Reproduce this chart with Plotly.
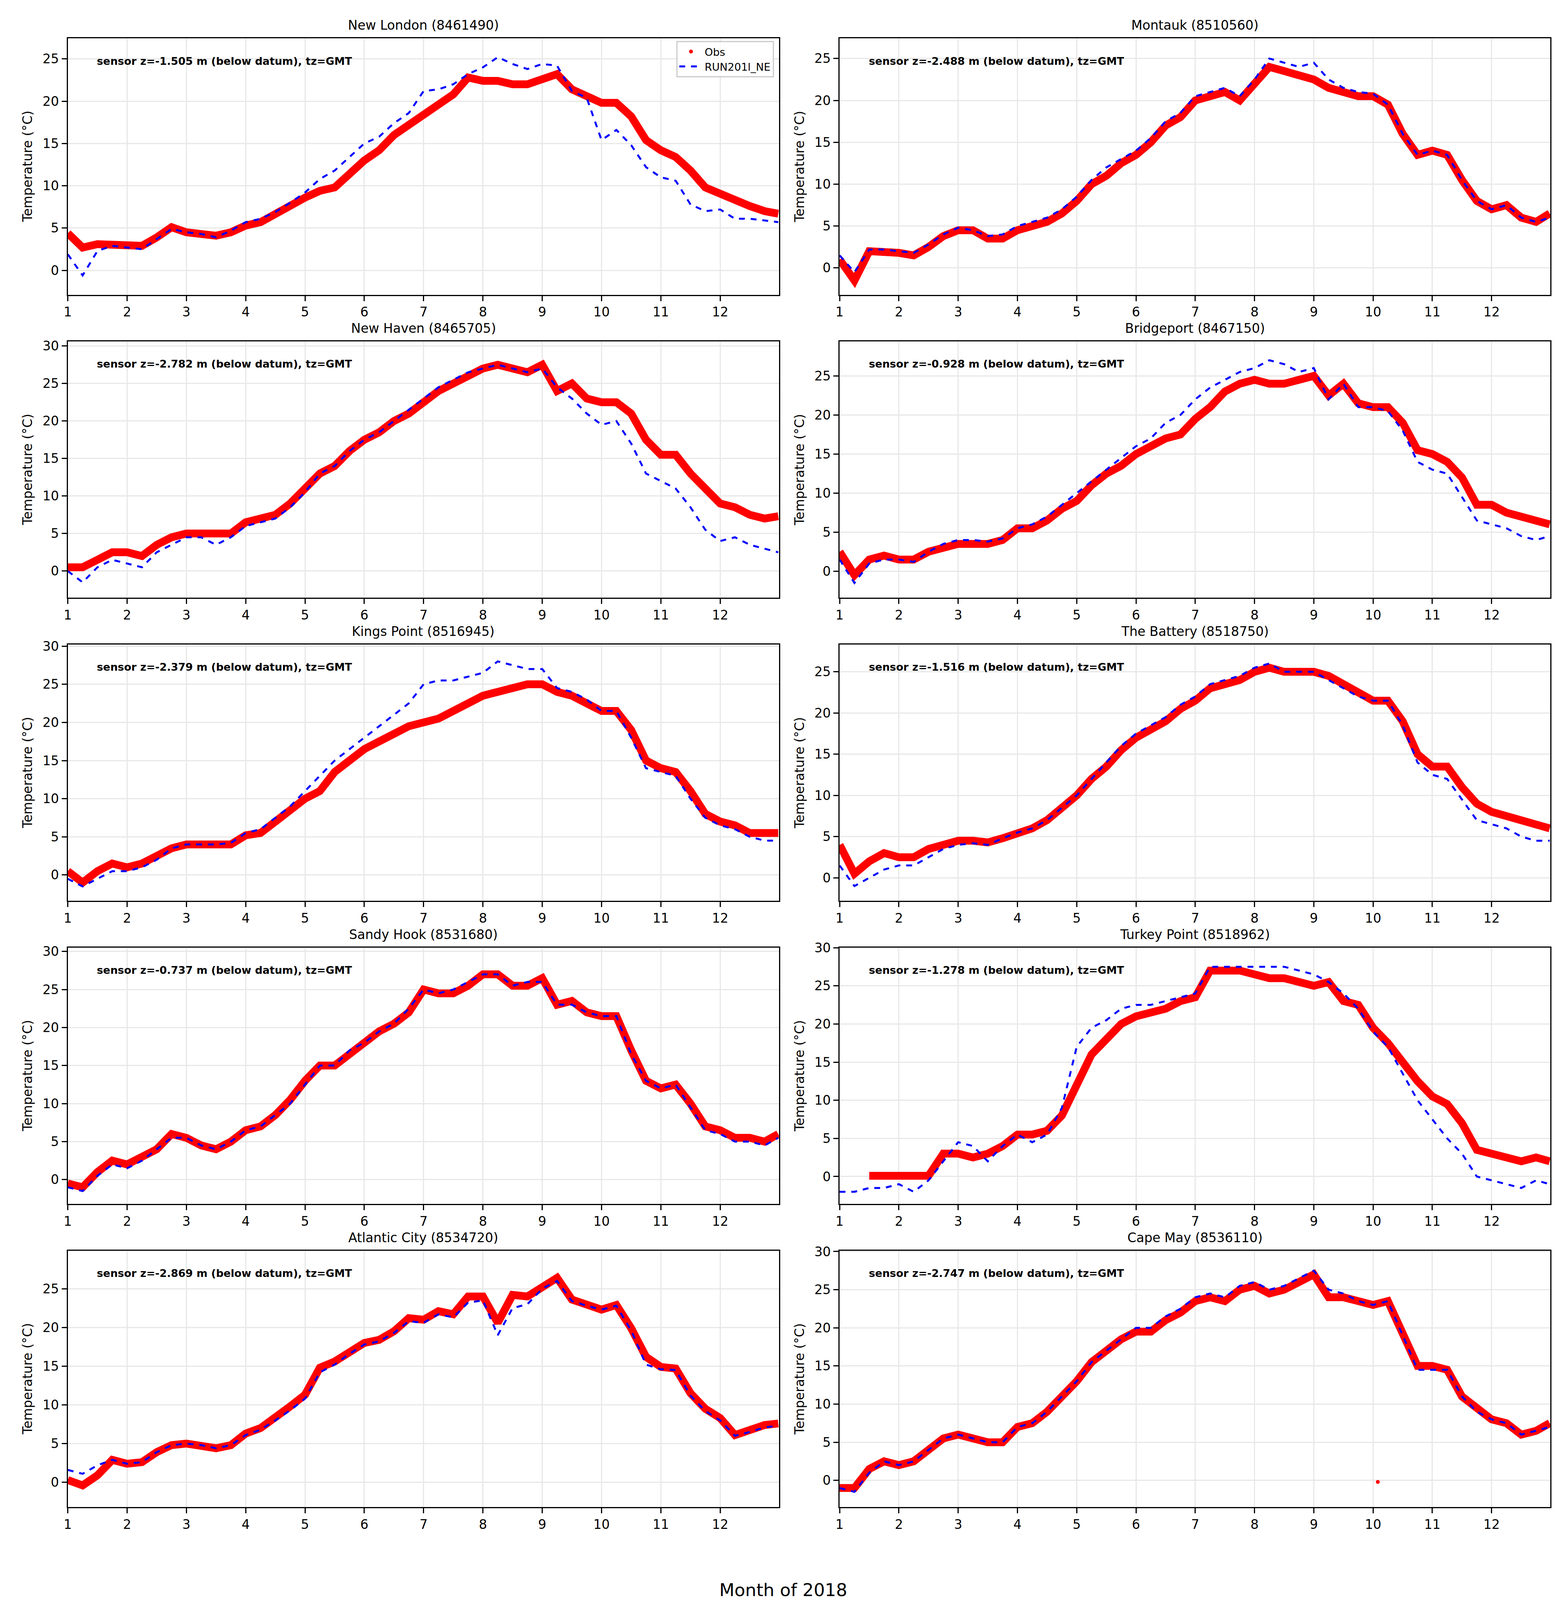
import plotly.graph_objects as go
from plotly.subplots import make_subplots

# Aikapisteet (kuukausi vuonna 2018), noin viikon valein
MONTHS = [1.0, 1.25, 1.5, 1.75, 2.0, 2.25, 2.5, 2.75, 3.0, 3.25, 3.5, 3.75,
          4.0, 4.25, 4.5, 4.75, 5.0, 5.25, 5.5, 5.75, 6.0, 6.25, 6.5, 6.75,
          7.0, 7.25, 7.5, 7.75, 8.0, 8.25, 8.5, 8.75, 9.0, 9.25, 9.5, 9.75,
          10.0, 10.25, 10.5, 10.75, 11.0, 11.25, 11.5, 11.75, 12.0, 12.25, 12.5, 12.75,
          12.98]

# New London (8461490)
NEW_LONDON_OBS = [4.4, 2.7, 3.1, 3.1, 3.0, 2.9, 3.9, 5.1, 4.5, 4.3, 4.1, 4.5,
                  5.3, 5.7, 6.7, 7.8, 8.6, 9.4, 9.8, 11.4, 13.0, 14.2, 16.0, 17.2,
                  18.4, 19.8, 20.8, 22.8, 22.4, 22.4, 22.0, 22.0, 22.6, 23.2, 21.4, 20.6,
                  19.8, 19.8, 18.2, 15.4, 14.2, 13.4, 11.8, 9.8, 9.0, 8.2, 7.6, 7.0,
                  6.7]
NEW_LONDON_MODEL = [1.9, -0.6, 2.3, 2.9, 2.7, 2.5, 3.7, 4.9, 4.5, 4.3, 3.9, 4.7,
                    5.7, 6.1, 6.9, 8.0, 9.2, 10.8, 11.8, 13.4, 15.0, 15.8, 17.4, 18.6,
                    21.2, 21.4, 22.0, 23.2, 24.0, 25.2, 24.4, 23.8, 24.4, 24.2, 21.2, 20.4,
                    15.4, 16.6, 14.8, 12.2, 11.0, 10.6, 7.8, 7.0, 7.2, 6.1, 6.1, 5.9,
                    5.7]

# Montauk (8510560)
MONTAUK_OBS = [1, -1.5, 2, 2, 1.8, 1.5, 2.5, 3.8, 4.5, 4.5, 3.5, 3.5,
               4.5, 5, 5.5, 6.5, 8, 10, 11, 12.5, 13.5, 15, 17, 18,
               20, 20.5, 21, 20, 22, 24, 23.5, 23, 22.5, 21.5, 21, 20.5,
               20.5, 19.5, 16, 13.5, 14, 13.5, 10.5, 8, 7, 7.5, 6, 5.5,
               6.5]
MONTAUK_MODEL = [1.5, -0.5, 2.2, 2.2, 2, 1.8, 2.8, 4, 4.8, 4.5, 3.8, 4,
                 5, 5.5, 6, 7, 8.5, 10.5, 12, 13, 14, 15.5, 17.5, 18.5,
                 20.5, 21, 21.5, 20.5, 22.5, 25, 24.5, 24, 24.5, 22.5, 21.5, 21,
                 20.8, 19.5, 16, 13.5, 14, 13.5, 10.5, 8, 7, 7.5, 6, 5.5,
                 6]

# New Haven (8465705)
NEW_HAVEN_OBS = [0.5, 0.5, 1.5, 2.5, 2.5, 2, 3.5, 4.5, 5, 5, 4.8, 5,
                 6.5, 7, 7.5, 9, 11, 13, 14, 16, 17.5, 18.5, 20, 21,
                 22.5, 24, 25, 26, 27, 27.5, 27, 26.5, 27.5, 24, 25, 23,
                 22.5, 22.5, 21, 17.5, 15.5, 15.5, 13, 11, 9, 8.5, 7.5, 7,
                 7.3]
NEW_HAVEN_MODEL = [0, -1.5, 0.5, 1.5, 1, 0.5, 2.5, 3.5, 4.5, 4.5, 3.5, 4.5,
                   6, 6.5, 7, 8.5, 10.5, 13, 14, 16, 17.5, 18.5, 20, 21.5,
                   23, 24.5, 25.5, 26.5, 27, 27.5, 27, 26.5, 27, 24.5, 23, 21,
                   19.5, 20, 17, 13, 12, 11, 8.5, 5.5, 4, 4.5, 3.5, 3,
                   2.5]

# Bridgeport (8467150)
BRIDGEPORT_OBS = [2.5, -0.5, 1.5, 2, 1.5, 1.5, 2.5, 3, 3.5, 3.5, 3.5, 4,
                  5.5, 5.5, 6.5, 8, 9, 11, 12.5, 13.5, 15, 16, 17, 17.5,
                  19.5, 21, 23, 24, 24.5, 24, 24, 24.5, 25, 22.5, 24, 21.5,
                  21, 21, 19, 15.5, 15, 14, 12, 8.5, 8.5, 7.5, 7, 6.5,
                  6]
BRIDGEPORT_MODEL = [1.5, -1.5, 1, 1.5, 1.5, 1.2, 2.5, 3.5, 4, 4, 3.8, 4.2,
                    5.5, 6, 7, 8.5, 10, 11.5, 13, 14.5, 16, 17, 19, 20,
                    22, 23.5, 24.5, 25.5, 26, 27, 26.5, 25.5, 26, 22, 24, 21,
                    21, 20.5, 18, 14, 13, 12.5, 9.5, 6.5, 6, 5.5, 4.5, 4,
                    4.5]

# Kings Point (8516945)
KINGS_POINT_OBS = [0.5, -1, 0.5, 1.5, 1, 1.5, 2.5, 3.5, 4, 4, 3.8, 4,
                   5.2, 5.5, 7, 8.5, 10, 11, 13.5, 15, 16.5, 17.5, 18.5, 19.5,
                   20, 20.5, 21.5, 22.5, 23.5, 24, 24.5, 25, 25, 24, 23.5, 22.5,
                   21.5, 21.5, 19, 15, 14, 13.5, 11, 8, 7, 6.5, 5.5, 5.5,
                   5.5]
KINGS_POINT_MODEL = [-0.5, -1.5, -0.5, 0.5, 0.5, 1, 2, 3.5, 4, 4, 4, 4.2,
                     5.5, 6, 7.5, 9, 11, 13, 15, 16.5, 18, 19.5, 21, 22.5,
                     25, 25.5, 25.5, 26, 26.5, 28, 27.5, 27, 27, 24.5, 24, 23,
                     21.5, 21.5, 18, 14, 13.5, 13, 10, 7.5, 6.5, 6, 5, 4.5,
                     4.5]

# The Battery (8518750)
BATTERY_OBS = [4, 0.5, 2, 3, 2.5, 2.5, 3.5, 4, 4.5, 4.5, 4.3, 4.8,
               5.5, 6, 7, 8.5, 10, 12, 13.5, 15.5, 17, 18, 19, 20.5,
               21.5, 23, 23.5, 24, 25, 25.5, 25, 25, 25, 24.5, 23.5, 22.5,
               21.5, 21.5, 19, 15, 13.5, 13.5, 11, 9, 8, 7.5, 7, 6.5,
               6]
BATTERY_MODEL = [1.5, -1, 0, 1, 1.5, 1.5, 2.5, 3.5, 4, 4.2, 4, 4.8,
                 5.5, 6, 7, 8.5, 10, 12, 14, 16, 17.5, 18.5, 19.5, 21,
                 22, 23.5, 24, 24.5, 25.5, 26, 25, 25, 25, 24, 23, 22,
                 21.5, 21.5, 18.5, 14, 12.5, 12, 9.5, 7, 6.5, 6, 5, 4.5,
                 4.5]

# Sandy Hook (8531680)
SANDY_HOOK_OBS = [-0.5, -1, 1, 2.5, 2, 3, 4, 6, 5.5, 4.5, 4, 5,
                  6.5, 7, 8.5, 10.5, 13, 15, 15, 16.5, 18, 19.5, 20.5, 22,
                  25, 24.5, 24.5, 25.5, 27, 27, 25.5, 25.5, 26.5, 23, 23.5, 22,
                  21.5, 21.5, 17, 13, 12, 12.5, 10, 7, 6.5, 5.5, 5.5, 5,
                  6]
SANDY_HOOK_MODEL = [-1, -1.5, 0.5, 2, 1.5, 2.5, 4, 5.5, 5.5, 4.5, 4, 5,
                    6.5, 7, 8.5, 10, 12.5, 15, 15, 17, 18, 19.5, 20.5, 22.5,
                    25, 24.5, 25, 26, 27, 27, 25.5, 26, 26, 23, 23, 22,
                    21.5, 21.5, 16.5, 13, 12, 12.5, 9.5, 6.5, 6, 5, 5, 4.5,
                    5.5]

# Turkey Point (8518962)
TURKEY_POINT_OBS = [None, None, 0.1, 0.1, 0.1, 0.1, 0.1, 3, 3, 2.5, 3, 4,
                    5.5, 5.5, 6, 8, 12, 16, 18, 20, 21, 21.5, 22, 23,
                    23.5, 27, 27, 27, 26.5, 26, 26, 25.5, 25, 25.5, 23, 22.5,
                    19.5, 17.5, 15, 12.5, 10.5, 9.5, 7, 3.5, 3, 2.5, 2, 2.5,
                    2]
TURKEY_POINT_MODEL = [-2, -2, -1.5, -1.5, -1, -2, -0.5, 2, 4.5, 4, 2, 4,
                      5.5, 4.5, 5.5, 9, 17, 19.5, 20.5, 22, 22.5, 22.5, 23, 23.5,
                      24, 27.5, 27.5, 27.5, 27.5, 27.5, 27.5, 27, 26.5, 25.5, 24, 22,
                      19, 17, 13.5, 10, 7.5, 5, 3, 0, -0.5, -1, -1.5, -0.5,
                      -1]

# Atlantic City (8534720)
ATLANTIC_CITY_OBS = [0.3, -0.4, 0.9, 2.9, 2.4, 2.6, 3.9, 4.8, 5.0, 4.8, 4.4, 4.8,
                     6.3, 7.0, 8.3, 9.8, 11.3, 14.8, 15.6, 16.9, 18.0, 18.4, 19.5, 21.2,
                     21.0, 22.1, 21.7, 24.0, 24.0, 20.6, 24.2, 24.0, 25.3, 26.4, 23.6, 22.9,
                     22.3, 22.9, 19.9, 16.2, 14.9, 14.7, 11.5, 9.5, 8.3, 6.1, 6.7, 7.4,
                     7.6]
ATLANTIC_CITY_MODEL = [1.6, 1.1, 2.2, 2.9, 2.4, 2.6, 3.9, 4.8, 5.0, 4.8, 4.4, 4.8,
                       6.1, 6.8, 8.0, 9.3, 10.8, 14.2, 15.2, 16.6, 17.8, 18.2, 19.3, 20.8,
                       20.6, 21.7, 21.3, 23.2, 23.5, 19.0, 22.5, 23.0, 25.0, 26.0, 23.4, 22.8,
                       22.3, 22.8, 19.6, 15.2, 14.6, 14.5, 11.2, 9.2, 8.0, 6.0, 6.5, 7.1,
                       7.3]

# Cape May (8536110)
CAPE_MAY_OBS = [-1, -1, 1.5, 2.5, 2, 2.5, 4, 5.5, 6, 5.5, 5, 5,
                7, 7.5, 9, 11, 13, 15.5, 17, 18.5, 19.5, 19.5, 21, 22,
                23.5, 24, 23.5, 25, 25.5, 24.5, 25, 26, 27, 24, 24, 23.5,
                23, 23.5, 19, 15, 15, 14.5, 11, 9.5, 8, 7.5, 6, 6.5,
                7.5]
CAPE_MAY_MODEL = [-1, -1.5, 1, 2.5, 2, 2.5, 4, 5.5, 6, 5.5, 5, 5,
                  7, 7.5, 9, 11, 13, 15.5, 17, 18.5, 20, 20, 21.5, 22.5,
                  24, 24.5, 24, 25.5, 26, 25, 25.5, 26.5, 27.5, 25, 24.5, 23.5,
                  23, 23.5, 19, 14.5, 14.5, 14.5, 11, 9, 8, 7.5, 6, 6.5,
                  7]
CAPE_MAY_SPIKE_X = [10.08]
CAPE_MAY_SPIKE_Y = [-0.2]

STATION_NAMES = ["New London (8461490)", "Montauk (8510560)",
                 "New Haven (8465705)", "Bridgeport (8467150)",
                 "Kings Point (8516945)", "The Battery (8518750)",
                 "Sandy Hook (8531680)", "Turkey Point (8518962)",
                 "Atlantic City (8534720)", "Cape May (8536110)"]
SENSOR_DEPTHS = ["-1.505", "-2.488", "-2.782", "-0.928", "-2.379",
                 "-1.516", "-0.737", "-1.278", "-2.869", "-2.747"]
OBS_SERIES = [NEW_LONDON_OBS, MONTAUK_OBS, NEW_HAVEN_OBS, BRIDGEPORT_OBS,
              KINGS_POINT_OBS, BATTERY_OBS, SANDY_HOOK_OBS, TURKEY_POINT_OBS,
              ATLANTIC_CITY_OBS, CAPE_MAY_OBS]
MODEL_SERIES = [NEW_LONDON_MODEL, MONTAUK_MODEL, NEW_HAVEN_MODEL, BRIDGEPORT_MODEL,
                KINGS_POINT_MODEL, BATTERY_MODEL, SANDY_HOOK_MODEL, TURKEY_POINT_MODEL,
                ATLANTIC_CITY_MODEL, CAPE_MAY_MODEL]
Y_RANGES = [[-2.88, 27.42], [-3.2, 27.4], [-3.57, 30.6], [-3.4, 29.4],
            [-3.4, 30.2], [-2.8, 28.3], [-3.2, 30.5], [-3.6, 30.0],
            [-3.2, 29.9], [-3.5, 30.1]]

FONT = "DejaVu Sans"
# Kuvakaappaus ei ylla 5000 px korkeuteen, joten pystysuunta puristetaan
W, H = 3984, 4120
SY = H / 5000

# Paneelien paikat (alkuperaisen kuvan pikseleina)
COL_X = [(155, 1981), (2137, 3962)]
ROW_TOP = [87, 1033, 1979, 2925, 3871]
ROW_H = 800

fig = make_subplots(rows=5, cols=2)

for i, name in enumerate(STATION_NAMES):
    r = i // 2 + 1
    c = i % 2 + 1
    n = i + 1
    fig.add_trace(go.Scatter(
        x=MONTHS, y=OBS_SERIES[i], mode="lines",
        line={"color": "#ff0000", "width": 20},
        connectgaps=False, showlegend=False, hoverinfo="skip"
    ), row=r, col=c)
    if name.startswith("Cape May"):
        fig.add_trace(go.Scatter(
            x=CAPE_MAY_SPIKE_X, y=CAPE_MAY_SPIKE_Y, mode="markers",
            marker={"color": "#ff0000", "size": 10}, showlegend=False
        ), row=r, col=c)
    fig.add_trace(go.Scatter(
        x=MONTHS, y=MODEL_SERIES[i], mode="lines",
        line={"color": "#0000ff", "width": 5, "dash": "dash"},
        name="RUN201l_NE", showlegend=(i == 0), legendrank=2
    ), row=r, col=c)

    x0, x1 = COL_X[c - 1]
    top = ROW_TOP[r - 1] * SY
    bot = (ROW_TOP[r - 1] + ROW_H) * SY
    axis_style = dict(
        showline=True, mirror=True, linecolor="black", linewidth=3,
        ticks="outside", ticklen=13, tickwidth=3, tickcolor="black",
        tickfont={"size": 33, "family": FONT, "color": "black"},
        showgrid=True, gridcolor="#e8e8e8", gridwidth=3, zeroline=False,
    )
    fig.update_xaxes(domain=[x0 / W, x1 / W], range=[1, 12.99],
                     tickmode="linear", tick0=1, dtick=1, **axis_style, row=r, col=c)
    fig.update_yaxes(domain=[1 - bot / H, 1 - top / H], range=Y_RANGES[i],
                     tickmode="linear", tick0=0, dtick=5, **axis_style, row=r, col=c)

    xd = "x domain" if n == 1 else f"x{n} domain"
    yd = "y domain" if n == 1 else f"y{n} domain"
    # Otsikko
    fig.add_annotation(text=name, xref=xd, yref=yd, x=0.5, y=1,
                       xanchor="center", yanchor="bottom", yshift=12,
                       showarrow=False, font={"size": 33, "family": FONT, "color": "black"})
    # Anturin syvyys
    fig.add_annotation(text=f"<b>sensor z={SENSOR_DEPTHS[i]} m (below datum), tz=GMT</b>",
                       xref=xd, yref=yd, x=0.04, y=1, xanchor="left", yanchor="middle",
                       yshift=-70 * SY, showarrow=False,
                       font={"size": 27, "family": FONT, "color": "black"})
    # y-akselin otsikko
    fig.add_annotation(text="Temperature (°C)", xref=xd, yref=yd, x=0, y=0.5,
                       xanchor="center", yanchor="middle", xshift=-103, textangle=-90,
                       showarrow=False, font={"size": 33, "family": FONT, "color": "black"})

# Legendan merkki havainnoille
fig.add_trace(go.Scatter(
    x=[None], y=[None], mode="markers", name="Obs",
    marker={"color": "#ff0000", "size": 10}, legendrank=1
), row=1, col=1)

fig.add_annotation(text="Month of 2018", xref="paper", yref="paper", x=0.5, y=1 - 4930 * SY / H,
                   xanchor="center", yanchor="middle", showarrow=False,
                   font={"size": 45, "family": FONT, "color": "black"})

fig.update_layout(
    width=W, height=H,
    margin={"l": 0, "r": 0, "t": 0, "b": 0},
    plot_bgcolor="white", paper_bgcolor="white",
    font={"family": FONT, "color": "black"},
    legend={"x": 1968 / W, "y": 1 - 95 * SY / H, "xanchor": "right", "yanchor": "top",
            "bgcolor": "rgba(255,255,255,0.8)", "bordercolor": "#cccccc", "borderwidth": 3,
            "font": {"size": 27, "family": FONT}, "itemwidth": 60,
            "traceorder": "normal"},
)

fig.write_html("out.html")
